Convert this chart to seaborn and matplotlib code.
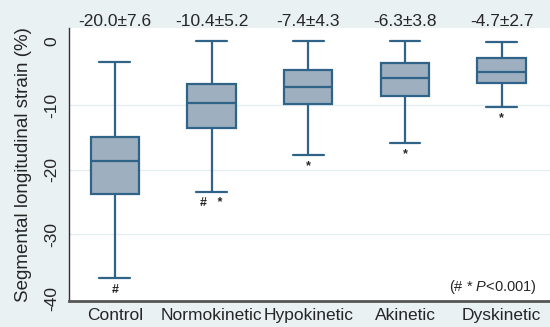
import pandas as pd
import numpy as np
import matplotlib
matplotlib.use("Agg")
import matplotlib.pyplot as plt
import seaborn as sns

# gruppi e riassunto a cinque numeri
gruppi = ["Control", "Normokinetic", "Hypokinetic", "Akinetic", "Dyskinetic"]
minimo = [-36.9, -23.4, -17.7, -15.8, -10.2]
q1 = [-23.8, -13.5, -9.8, -8.5, -6.5]
mediana = [-18.7, -9.7, -7.1, -5.8, -4.8]
q3 = [-14.9, -6.7, -4.5, -3.4, -2.6]
massimo = [-3.3, 0.0, 0.0, 0.0, -0.2]
media_ds = ["-20.0±7.6", "-10.4±5.2", "-7.4±4.3", "-6.3±3.8", "-4.7±2.7"]
segni = ["#", "#   *", "*", "*", "*"]

sns.set_style("white")
plt.rcParams["font.family"] = ["Liberation Sans", "DejaVu Sans"]
plt.rcParams["axes.unicode_minus"] = False
plt.rcParams["mathtext.fontset"] = "custom"
plt.rcParams["mathtext.rm"] = "Liberation Sans"
plt.rcParams["mathtext.it"] = "Liberation Sans:italic"

# costruisco il dataframe: con 5 valori i quartili coincidono con q1, mediana, q3
righe = []
for i, g in enumerate(gruppi):
    for v in [minimo[i], q1[i], mediana[i], q3[i], massimo[i]]:
        righe.append({"Gruppo": g, "Strain": v})
df = pd.DataFrame(righe)

fig = plt.figure(figsize=(5.5, 3.27), dpi=100)
fig.patch.set_facecolor("#e9f1f3")
ax = fig.add_axes([0.1255, 0.0795, 0.8745, 0.8345])
ax.set_facecolor("white")

#griglia leggera
for y in [-10, -20, -30]:
    ax.axhline(y, color="#e3eef0", lw=1, zorder=0)

sns.boxplot(data=df, x="Gruppo", y="Strain", order=gruppi, ax=ax,
            color="#9eb0c0", linecolor="#2f6488", linewidth=1.6,
            saturation=1, width=0.5, whis=(0, 100), showfliers=False,
            capwidths=0.32)

ax.set_xlim(-0.475, 4.5)
ax.set_ylim(-40.4, 2.0)
ax.set_yticks([0, -10, -20, -30, -40])
ax.set_yticklabels(["0", "-10", "-20", "-30", "-40"], rotation=90, va="center")
ax.tick_params(axis="y", length=4, width=1, color="#333333", pad=3, labelsize=12.5)
ax.tick_params(axis="x", length=0, pad=5, labelsize=12.5)
ax.set_xlabel("")
ax.set_ylabel("Segmental longitudinal strain (%)", fontsize=13.5, labelpad=9)

for lato in ["top", "right"]:
    ax.spines[lato].set_visible(False)
ax.spines["left"].set_color("#333333")
ax.spines["left"].set_linewidth(1)
ax.spines["bottom"].set_color("#555555")
ax.spines["bottom"].set_linewidth(2)

# media ± ds sopra ogni box
for i, testo in enumerate(media_ds):
    ax.text(i, 3.1, testo, ha="center", va="center", fontsize=12.5, clip_on=False)

# segni di significativita sotto i baffi
for i, s in enumerate(segni):
    ax.text(i, minimo[i] - 1.8, s, ha="center", va="center", fontsize=9,
            fontweight="bold")

ax.text(0.973, 0.051, r"(# * $\it{P}$<0.001)", transform=ax.transAxes,
        ha="right", va="center", fontsize=10.5)

fig.savefig("out.png", dpi=100, facecolor=fig.get_facecolor())
